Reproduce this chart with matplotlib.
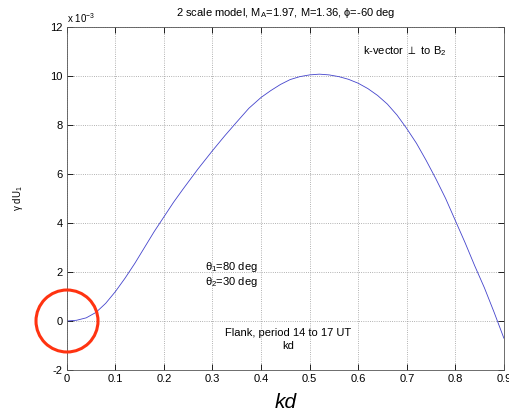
import matplotlib
matplotlib.use("Agg")
import matplotlib.pyplot as plt
from matplotlib.patches import Circle

plt.rcParams['font.family'] = ['Liberation Sans', 'DejaVu Sans']
plt.rcParams['mathtext.default'] = 'regular'

# growth rate (units of 1e-3)
kd = [0, 0.02, 0.04, 0.06, 0.08, 0.10, 0.12, 0.14, 0.16, 0.18, 0.20, 0.22, 0.24,
      0.27, 0.30, 0.325, 0.35, 0.375, 0.40, 0.42, 0.44, 0.46, 0.48, 0.50, 0.52,
      0.54, 0.56, 0.58, 0.60, 0.62, 0.64, 0.66, 0.68, 0.70, 0.72, 0.74, 0.76,
      0.78, 0.80, 0.82, 0.84, 0.86, 0.88, 0.90]
gamma = [0, 0.03, 0.13, 0.35, 0.72, 1.20, 1.75, 2.35, 3.00, 3.65, 4.25, 4.85, 5.40,
         6.20, 6.95, 7.55, 8.12, 8.68, 9.12, 9.40, 9.65, 9.85, 9.97, 10.04, 10.07,
         10.04, 9.97, 9.86, 9.70, 9.48, 9.20, 8.85, 8.40, 7.85, 7.25, 6.55, 5.80,
         5.00, 4.10, 3.20, 2.25, 1.35, 0.35, -0.70]

xticks = [0, 0.1, 0.2, 0.3, 0.4, 0.5, 0.6, 0.7, 0.8, 0.9]
xticklabels = ['0', '0.1', '0.2', '0.3', '0.4', '0.5', '0.6', '0.7', '0.8', '0.9']
yticks = [-2, 0, 2, 4, 6, 8, 10, 12]

fig = plt.figure(figsize=(5.10, 4.13), dpi=100)
ax = fig.add_axes([0.131, 0.104, 0.857, 0.831])

ax.plot(kd, [g * 1e-3 for g in gamma], color='#4444cc', lw=0.6)

ax.set_xlim(0, 0.9)
ax.set_ylim(-2e-3, 12e-3)
ax.set_xticks(xticks)
ax.set_xticklabels(xticklabels)
ax.set_yticks([y * 1e-3 for y in yticks])
ax.set_yticklabels([str(y) for y in yticks])
ax.tick_params(direction='in', top=True, right=True, labelsize=8, length=4,
               width=0.6, pad=3)
for s in ax.spines.values():
    s.set_linewidth(0.6)
    s.set_color('#555555')
ax.grid(True, linestyle=':', color='#999999', lw=0.6)

ax.text(0.0, 1.005, r'x 10$^{-3}$', transform=ax.transAxes, fontsize=7,
        va='bottom', ha='left')
ax.set_title(r'2 scale model, M$_A$=1.97, M=1.36, $\phi$=-60 deg',
             fontsize=8, pad=8)
ax.set_ylabel(r'$\gamma$ dU$_1$', fontsize=7, labelpad=18)
ax.set_xlabel('kd', fontsize=15, style='italic', labelpad=6)

ax.text(0.61, 10.9e-3, r'k-vector $\perp$ to B$_2$', fontsize=8)
ax.text(0.285, 2.1e-3, r'$\theta_1$=80 deg', fontsize=8)
ax.text(0.285, 1.45e-3, r'$\theta_2$=30 deg', fontsize=8)
ax.text(0.455, -0.6e-3, 'Flank, period 14 to 17 UT', fontsize=8, ha='center')
ax.text(0.455, -1.15e-3, 'kd', fontsize=8, ha='center')

# red circle highlighting the origin
circ = Circle((67, 92), 31, transform=None, fill=False, edgecolor='#ff3311',
              lw=2.2, clip_on=False)
fig.patches.append(circ)

fig.savefig('out.png', dpi=100)
